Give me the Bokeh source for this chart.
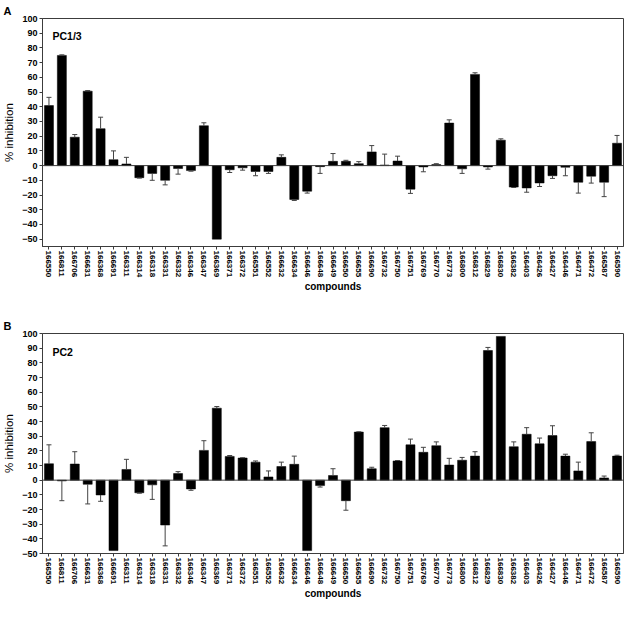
from bokeh.plotting import figure
from bokeh.models import FixedTicker, Span, Label, ColumnDataSource, FactorRange, Range1d
from bokeh.layouts import column
from bokeh.embed import file_html
from bokeh.resources import INLINE

compounds = ["166550", "166811", "166706", "166631", "166368", "166691", "166311", "166314",
             "166318", "166331", "166332", "166346", "166347", "166369", "166371", "166372",
             "166551", "166552", "166632", "166634", "166646", "166648", "166649", "166650",
             "166655", "166690", "166732", "166750", "166751", "166769", "166770", "166773",
             "166800", "166812", "166829", "166830", "166382", "166403", "166426", "166427",
             "166446", "166471", "166472", "166587", "166590"]

pc13_mean = [40.8, 74.9, 19.3, 50.6, 25.1, 4.0, 1.1, -8.2, -5.3, -10.0, -2.0, -3.4, 27.1, -50.0,
             -2.8, -1.5, -4.0, -4.0, 5.6, -23.0, -17.4, -0.7, 2.9, 2.9, 1.3, 9.3, 0.4, 3.1, -16.0,
             -0.9, 0.7, 28.9, -2.2, 62.0, -0.9, 17.3, -14.6, -15.2, -11.8, -6.9, -1.1, -11.3,
             -7.2, -11.3, 15.2]
pc13_err = [5.6, 0.4, 1.8, 0.4, 7.8, 6.0, 4.5, 0.3, 4.7, 3.1, 3.8, 0.4, 2.0, 0.0, 1.9, 1.6, 2.9,
            1.3, 1.7, 0.7, 1.3, 4.6, 5.3, 0.7, 1.4, 4.3, 7.4, 3.3, 2.9, 3.3, 0.6, 2.2, 3.1, 1.1,
            1.5, 0.9, 0.3, 2.9, 2.4, 1.8, 5.8, 7.4, 4.7, 9.8, 5.3]

pc2_mean = [11.2, -0.5, 11.0, -2.8, -10.1, -48.0, 7.3, -8.6, -3.2, -30.6, 4.5, -6.0, 20.3, 49.1,
            16.2, 15.1, 12.3, 2.2, 9.3, 10.8, -48.0, -3.7, 3.2, -14.0, 32.8, 7.8, 35.8, 13.1,
            24.1, 19.0, 23.5, 10.3, 13.6, 16.4, 88.4, 98.0, 22.8, 31.3, 24.8, 30.4, 16.4, 6.3,
            26.3, 1.5, 16.4]
pc2_err = [12.9, 13.5, 8.4, 13.4, 4.3, 0.0, 6.9, 0.3, 9.9, 14.2, 1.3, 0.9, 6.6, 1.1, 0.6, 0.2,
           0.8, 4.1, 3.0, 5.6, 0.0, 1.0, 4.6, 6.5, 0.2, 1.0, 1.5, 0.3, 3.9, 3.4, 2.6, 4.6, 1.9,
           3.0, 2.1, 0.0, 3.3, 4.5, 3.9, 6.7, 1.3, 6.0, 6.0, 1.3, 0.6]

y_ticks = list(range(-50, 101, 10))

FONT = "Liberation Sans"
AX = "#3c3c3c"
ERR = "#444444"
LEFT = 41


def make_panel(letter, name, means, errs, ylo, height, top_border, name_y):
    p = figure(x_range=FactorRange(factors=compounds), y_range=Range1d(ylo, 100),
               width=624, height=height,
               min_border_top=top_border, min_border_left=LEFT, min_border_right=1,
               min_border_bottom=45, output_backend="svg", toolbar_location=None,
               background_fill_color="white", border_fill_color="white")
    p.outline_line_color = AX
    p.outline_line_width = 1
    p.xgrid.visible = False
    p.ygrid.visible = False

    p.title.text = letter
    p.title.align = "left"
    p.title.vertical_align = "top"
    p.title.offset = -LEFT + 2
    p.title.standoff = 0
    p.title.text_font = FONT
    p.title.text_font_size = "11px"
    p.title.text_font_style = "bold"
    p.title.text_color = "black"

    src = ColumnDataSource(dict(x=compounds, top=means))
    p.vbar(x="x", top="top", bottom=0, width=0.7, source=src,
           fill_color="black", line_color="black", line_width=0.5)

    ex, e0, e1 = [], [], []
    for c, m, e in zip(compounds, means, errs):
        if e <= 0:
            continue
        ex.append(c)
        e0.append(m)
        e1.append(m + e if m >= 0 else m - e)
    esrc = ColumnDataSource(dict(x=ex, y0=e0, y1=e1))
    p.segment(x0="x", y0="y0", x1="x", y1="y1", source=esrc, line_color=ERR, line_width=1)
    p.scatter(x="x", y="y1", source=esrc, marker="dash", size=5, line_color=ERR, line_width=1)

    p.add_layout(Span(location=0, dimension="width", line_color=AX, line_width=1))

    p.yaxis.ticker = FixedTicker(ticks=y_ticks)
    p.yaxis.minor_tick_line_color = None
    p.yaxis.major_tick_in = 0
    p.yaxis.major_tick_out = 3
    p.yaxis.major_label_standoff = 2
    p.yaxis.major_label_text_font = FONT
    p.yaxis.major_label_text_font_size = "9px"
    p.yaxis.major_label_text_font_style = "bold"
    p.yaxis.major_label_text_color = "black"
    p.yaxis.axis_label = "% inhibition"
    p.yaxis.axis_label_text_font = FONT
    p.yaxis.axis_label_text_font_size = "11.5px"
    p.yaxis.axis_label_text_font_style = "normal"
    p.yaxis.axis_label_text_color = "black"
    p.yaxis.axis_label_standoff = 4
    p.yaxis.axis_line_color = AX
    p.yaxis.major_tick_line_color = AX

    p.xaxis.major_label_orientation = "vertical"
    p.xaxis.major_tick_in = 0
    p.xaxis.major_tick_out = 3
    p.xaxis.major_label_standoff = 1
    p.xaxis.major_label_text_font = FONT
    p.xaxis.major_label_text_font_size = "8px"
    p.xaxis.major_label_text_font_style = "bold"
    p.xaxis.major_label_text_color = "black"
    p.xaxis.axis_label = "compounds"
    p.xaxis.axis_label_text_font = FONT
    p.xaxis.axis_label_text_font_size = "10px"
    p.xaxis.axis_label_text_font_style = "bold"
    p.xaxis.axis_label_text_color = "black"
    p.xaxis.axis_label_standoff = 1
    p.xaxis.axis_line_color = AX
    p.xaxis.major_tick_line_color = AX

    p.add_layout(Label(x=10, y=name_y, x_units="screen", y_units="data", text=name,
                       text_font=FONT, text_font_size="10.5px", text_font_style="bold",
                       text_color="black", text_baseline="alphabetic"))
    return p


pa = make_panel("A", "PC1/3", pc13_mean, pc13_err, -55, 295, 18, 88.3)
pb = make_panel("B", "PC2", pc2_mean, pc2_err, -50, 307, 38, 87.1)

layout = column(pa, pb, spacing=0)
open("out.html", "w").write(file_html(layout, INLINE))
